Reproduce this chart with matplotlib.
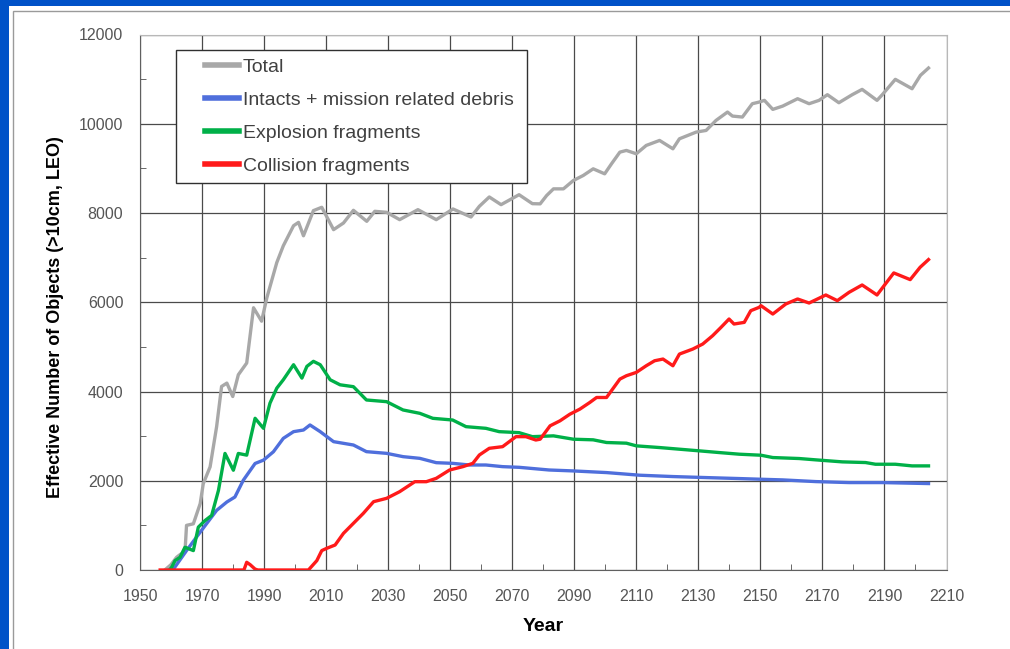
import matplotlib
matplotlib.use("Agg")
import matplotlib.pyplot as plt
import matplotlib.patches as mpatches
from matplotlib.ticker import MultipleLocator

plt.rcParams['font.family'] = ['Liberation Sans', 'DejaVu Sans']

# Total
total_years = [1958, 1960, 1961.8, 1963, 1964.5, 1965, 1967.2, 1969.4, 1970.4, 1972.6,
               1974.7, 1976.3, 1978, 1979.9, 1981.7, 1984.4, 1986.6, 1989.2, 1990.9, 1994.1,
               1996.2, 1999.5, 2001.1, 2002.7, 2005.9, 2008.6, 2012.4, 2015.6, 2018.8, 2023.1,
               2025.7, 2029.5, 2033.7, 2039.6, 2045.5, 2050.9, 2056.7, 2059.4, 2062.6, 2066.4,
               2072.2, 2076.5, 2079, 2081.1, 2083.3, 2086.5, 2089.7, 2092.9, 2096.1, 2099.8,
               2102, 2104.7, 2106.8, 2110, 2113.2, 2117.5, 2121.8, 2123.9, 2129.3, 2132.5,
               2135.7, 2139.4, 2141, 2144.2, 2147.4, 2149.6, 2151.3, 2154, 2157.2, 2162,
               2165.7, 2168.9, 2171.6, 2175.3, 2179.6, 2182.8, 2187.6, 2189.3, 2193.5, 2198.9,
               2201.6, 2204.2]
total_vals = [0, 120, 285, 350, 400, 1000, 1035, 1486, 1936, 2311,
              3212, 4113, 4188, 3888, 4375, 4638, 5876, 5576, 6102, 6890,
              7265, 7715, 7790, 7490, 8053, 8128, 7627, 7776, 8060, 7814,
              8038, 8015, 7851, 8075, 7851, 8090, 7910, 8150, 8359, 8187,
              8410, 8209, 8205, 8392, 8541, 8541, 8728, 8841, 8990, 8878,
              9102, 9364, 9402, 9327, 9514, 9626, 9439, 9663, 9813, 9850,
              10075, 10262, 10172, 10150, 10449, 10486, 10524, 10322, 10396, 10561,
              10449, 10524, 10651, 10471, 10651, 10770, 10524, 10651, 10995, 10785,
              11085, 11249]

# Intacts + mission related debris
intact_years = [1959.5, 1960.8, 1965, 1969.4, 1974.7, 1978, 1980.6, 1983.3, 1987.1, 1989.8,
                1993, 1996.2, 1999.5, 2002.7, 2004.8, 2008.1, 2012.4, 2018.8, 2023, 2029.5,
                2034.8, 2040.2, 2045.5, 2050.8, 2056.2, 2061.5, 2066.9, 2072.2, 2081.9, 2089.7,
                2100.4, 2111.1, 2121.8, 2132.5, 2143.2, 2150, 2157.2, 2167.9, 2178.6, 2189.3,
                2204.2]
intact_vals = [0, 20, 435, 848, 1336, 1524, 1636, 2011, 2387, 2462,
               2649, 2950, 3100, 3137, 3250, 3100, 2876, 2801, 2652, 2614,
               2540, 2502, 2405, 2390, 2353, 2353, 2316, 2301, 2241, 2220,
               2183, 2124, 2094, 2071, 2049, 2034, 2019, 1981, 1959, 1959,
               1937]

# Explosion fragments
expl_years = [1959.5, 1960.2, 1961.3, 1962.9, 1964.5, 1967.2, 1968.8, 1971, 1973.1, 1975.3,
              1977.4, 1980.1, 1981.7, 1984.4, 1987.1, 1989.8, 1991.9, 1994.1, 1996.2, 1999.5,
              2002.2, 2003.8, 2005.9, 2008.1, 2011.3, 2014.5, 2018.8, 2023, 2029.5, 2034.8,
              2040.2, 2044.4, 2050.8, 2055.1, 2061.5, 2065.8, 2072.2, 2076.5, 2083.3, 2089.7,
              2096.1, 2100.4, 2106.8, 2110, 2117.5, 2123.9, 2130.3, 2136.7, 2143.2, 2150.2,
              2154, 2162.5, 2167.9, 2176.4, 2183.9, 2187.1, 2193.5, 2198.9, 2204.2]
expl_vals = [0, 60, 210, 285, 510, 435, 960, 1110, 1223, 1786,
             2612, 2236, 2612, 2574, 3400, 3175, 3738, 4075, 4263, 4600,
             4300, 4563, 4676, 4600, 4263, 4150, 4108, 3810, 3772, 3586,
             3511, 3399, 3361, 3212, 3175, 3100, 3078, 2988, 3006, 2931,
             2917, 2857, 2842, 2782, 2744, 2707, 2670, 2632, 2595, 2572,
             2520, 2498, 2468, 2423, 2408, 2370, 2370, 2333, 2333]

# Collision fragments
coll_years = [1956.5, 1983.5, 1984.4, 1985.5, 1987.1, 1988, 2004.3, 2007, 2008.6, 2010.2,
              2012.9, 2015.6, 2018.8, 2022, 2025.3, 2029.5, 2033.7, 2038.6, 2042.3, 2045.5,
              2049.8, 2054.1, 2057.3, 2059.4, 2062.6, 2066.9, 2071.2, 2074.4, 2077.6, 2079,
              2082.2, 2085.4, 2088.6, 2091.8, 2095, 2097.2, 2100.4, 2104.7, 2106.8, 2110,
              2113.2, 2115.9, 2118.6, 2121.8, 2123.9, 2128.2, 2131.4, 2134.6, 2137.3, 2139.9,
              2141.5, 2144.8, 2146.9, 2149.6, 2150.2, 2154, 2158.2, 2162, 2165.7, 2171.1,
              2174.8, 2178.6, 2182.8, 2187.6, 2193, 2198.3, 2201.5, 2204.2]
coll_vals = [0, 0, 173, 120, 20, 0, 0, 210, 435, 486,
             560, 822, 1046, 1270, 1531, 1606, 1755, 1979, 1979, 2054,
             2241, 2316, 2390, 2577, 2727, 2764, 2988, 2988, 2913, 2931,
             3231, 3343, 3492, 3605, 3754, 3866, 3866, 4278, 4353, 4428,
             4577, 4689, 4727, 4577, 4839, 4951, 5063, 5250, 5437, 5624,
             5512, 5549, 5811, 5886, 5923, 5736, 5961, 6073, 5983, 6163,
             6036, 6223, 6387, 6163, 6657, 6507, 6784, 6956]

series = [
    (total_years, total_vals, "Total", "#a8a8a8"),
    (intact_years, intact_vals, "Intacts + mission related debris", "#4f6fdc"),
    (expl_years, expl_vals, "Explosion fragments", "#00b048"),
    (coll_years, coll_vals, "Collision fragments", "#ff1a1a"),
]

fig = plt.figure(figsize=(10.1, 6.49), dpi=100)
fig.patch.set_facecolor("#0052c8")
# white slide panel with thin grey border
fig.add_artist(mpatches.Rectangle((9 / 1010, 0), 1, 1 - 6 / 649, transform=fig.transFigure,
                                  facecolor="white", edgecolor="none", zorder=0))
fig.add_artist(mpatches.Rectangle((13 / 1010, -0.01), 1, 1 - 11 / 649 + 0.01, transform=fig.transFigure,
                                  facecolor="none", edgecolor="#9a9a9a", lw=1, zorder=1))

ax = fig.add_axes([140 / 1010, 1 - 570 / 649, 806.5 / 1010, 535.5 / 649])
ax.set_facecolor("white")

for xs, ys, lab, col in series:
    ax.plot(xs, ys, color=col, lw=2.4, label=lab, solid_joinstyle="round", zorder=3)

ax.set_xlim(1950, 2210)
ax.set_ylim(0, 12000)
ax.xaxis.set_major_locator(MultipleLocator(20, offset=10))
ax.xaxis.set_minor_locator(MultipleLocator(20))
ax.yaxis.set_major_locator(MultipleLocator(2000))
ax.yaxis.set_minor_locator(MultipleLocator(1000))
ax.grid(True, which="major", color="#4a4a4a", lw=0.9, zorder=1)
ax.tick_params(which="both", direction="in", top=False, right=False, colors="#505050",
               labelsize=11.5, labelcolor="#555555")
ax.tick_params(axis="x", which="major", length=0, pad=14)
ax.tick_params(axis="y", which="major", length=0, pad=12)
ax.tick_params(which="minor", length=4)
for side in ["left", "bottom"]:
    ax.spines[side].set_color("#606060")
for side in ["top", "right"]:
    ax.spines[side].set_color("#b8b8b8")

ax.set_xlabel("Year", fontsize=14, fontweight="bold")
ax.xaxis.set_label_coords(0.5, -(618 - 570) / 535.5)
ax.set_ylabel("Effective Number of Objects (>10cm, LEO)", fontsize=13, fontweight="bold")
ax.yaxis.set_label_coords(-(140 - 64) / 806.5, (570 - 317) / 535.5)

# legend frame drawn separately so the handles can sit further in
ax.add_patch(mpatches.Rectangle((36 / 806.5, (570 - 183) / 535.5), 351 / 806.5, 133 / 535.5,
                                transform=ax.transAxes, facecolor="white", edgecolor="#303030",
                                lw=1, zorder=4))
leg = ax.legend(loc="center left", bbox_to_anchor=(65 / 806.5, (570 - 116.5) / 535.5),
                borderaxespad=0, borderpad=0, frameon=False,
                fontsize=14, handlelength=1.75, handletextpad=0.2, labelspacing=0.79)
leg.set_zorder(5)
for t in leg.get_texts():
    t.set_color("#404040")
for h in leg.get_lines():
    h.set_linewidth(4)

fig.savefig("out.png", dpi=100, facecolor=fig.get_facecolor())
